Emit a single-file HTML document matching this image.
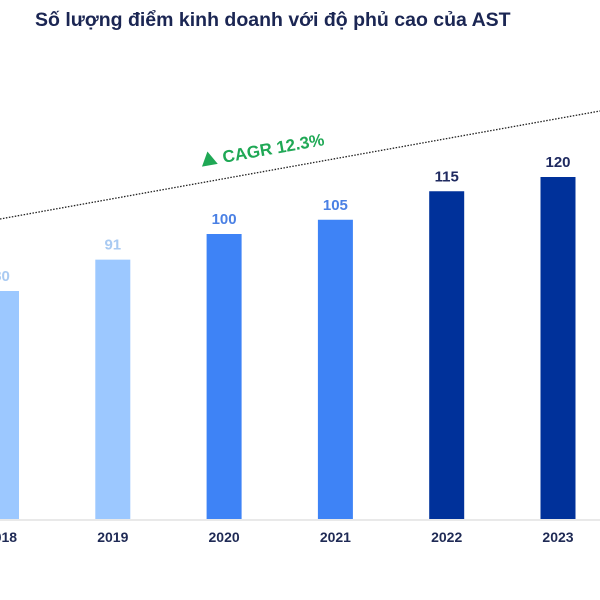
<!DOCTYPE html>
<html><head><meta charset="utf-8"><style>
html,body{margin:0;padding:0;background:#fff;width:600px;height:600px;overflow:hidden}
svg{display:block;font-family:"Liberation Sans",sans-serif}
</style></head><body>
<svg id="chart" width="600" height="600">
<text x="35" y="26" font-size="19.5" font-weight="bold" fill="#1b2653">Số lượng điểm kinh doanh với độ phủ cao của AST</text>
<line x1="0" y1="219" x2="600" y2="111" stroke="#222" stroke-width="1.3" stroke-dasharray="1.5,1.5"/>
<g transform="translate(262,150) rotate(-10)">
<polygon points="-62,6 -54,-8 -46,6" fill="#1fa855"/>
<text x="-40" y="6" font-size="17" font-weight="bold" fill="#1fa855">CAGR 12.3%</text>
</g>
<line x1="0" y1="520" x2="600" y2="520" stroke="#e2e2e2" stroke-width="1.5"/>
<g id="bars"></g>
</svg>
<script>
const categories = ["2018","2019","2020","2021","2022","2023"];
const values = [80,91,100,105,115,120];
const barColors = ["#9cc8ff","#9cc8ff","#3e83f6","#3e83f6","#00319a","#00319a"];
const labelColors = ["#a9caf2","#a9caf2","#4a80e4","#4a80e4","#1f2a60","#1f2a60"];
const baseY = 519, unit = 2.85, x0 = 1.5, step = 111.3, bw = 35;
function xScale(i){return x0 + i*step;}
function yScale(v){return baseY - v*unit;}
const g = document.getElementById('bars');
const ns = "http://www.w3.org/2000/svg";
categories.forEach((c,i)=>{
  const cx = xScale(i), y = yScale(values[i]);
  const r = document.createElementNS(ns,'rect');
  r.setAttribute('x', cx-bw/2); r.setAttribute('y', y);
  r.setAttribute('width', bw); r.setAttribute('height', baseY-y);
  r.setAttribute('fill', barColors[i]);
  
  
  g.appendChild(r);
  const t = document.createElementNS(ns,'text');
  t.setAttribute('x', cx); t.setAttribute('y', y-10);
  t.setAttribute('text-anchor','middle'); t.setAttribute('font-size','15');
  t.setAttribute('font-weight','bold'); t.setAttribute('fill', labelColors[i]);
  t.textContent = values[i];
  
  
  g.appendChild(t);
  const xl = document.createElementNS(ns,'text');
  xl.setAttribute('x', cx); xl.setAttribute('y', 542);
  xl.setAttribute('text-anchor','middle'); xl.setAttribute('font-size','14');
  xl.setAttribute('font-weight','bold'); xl.setAttribute('fill','#1f2a55');
  xl.textContent = c;
  
  
  g.appendChild(xl);
});
</script>
</body></html>
